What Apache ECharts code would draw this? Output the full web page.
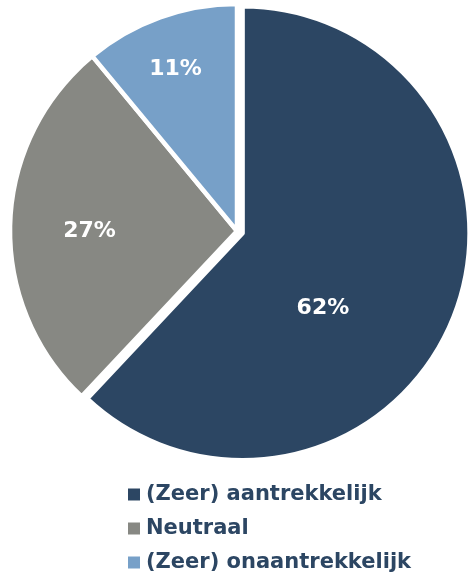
<!DOCTYPE html>
<html>
<head>
<meta charset="utf-8">
<script src="https://cdn.jsdelivr.net/npm/echarts@6/dist/echarts.min.js"></script>
<style>
html,body{margin:0;padding:0;background:#fff;}
#chart{width:468px;height:575px;}
</style>
</head>
<body>
<div id="chart"></div>
<script>
var categories = ['(Zeer) aantrekkelijk', 'Neutraal', '(Zeer) onaantrekkelijk'];
var values = [62, 27, 11];
var colors = ['#2C4663', '#878883', '#77A0C8'];
var labelShift = [[-28, 32], [-31, 4], [-22, -52]];

var chart = echarts.init(document.getElementById('chart'), null, {renderer: 'canvas'});
var data = categories.map(function (c, i) {
  return {
    name: c,
    value: values[i],
    selected: i === 0,
    itemStyle: {color: colors[i]}
  };
});
chart.setOption({
  animation: false,
  legend: {
    orient: 'vertical',
    left: 126,
    top: 484,
    height: 100,
    padding: 0,
    itemWidth: 14,
    itemHeight: 14,
    itemGap: 13,
    icon: 'rect',
    selectedMode: false,
    textStyle: {
      color: '#2C4663',
      fontFamily: 'DejaVu Sans',
      fontWeight: 'bold',
      fontSize: 21,
      lineHeight: 20
    },
    data: categories
  },
  series: [{
    type: 'pie',
    center: [237, 231],
    radius: 227,
    startAngle: 90,
    clockwise: true,
    selectedMode: 'single',
    selectedOffset: 6,
    emphasis: {disabled: true},
    itemStyle: {borderColor: '#fff', borderWidth: 4.5},
    label: {
      show: true,
      position: 'inside',
      formatter: '{c}%',
      color: '#fff',
      fontFamily: 'DejaVu Sans',
      fontWeight: 'bold',
      fontSize: 22
    },
    labelLayout: function (p) {
      var s = labelShift[p.dataIndex];
      return {dx: s[0], dy: s[1]};
    },
    labelLine: {show: false},
    data: data
  }]
});
</script>
</body>
</html>
